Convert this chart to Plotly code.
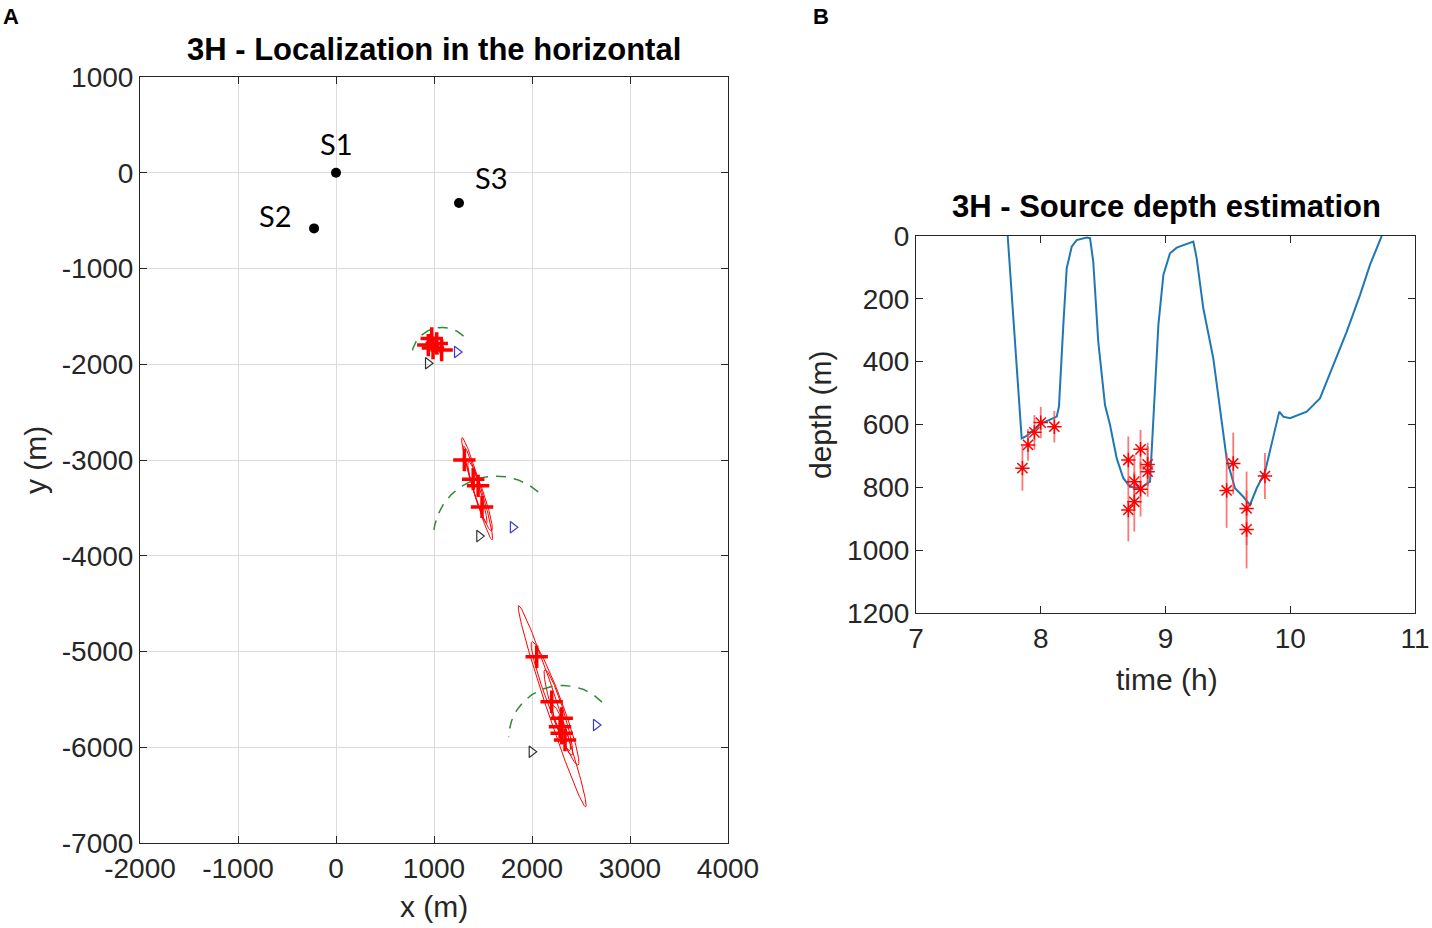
import numpy as np
import plotly.graph_objects as go

# --- panel A: horizontal localization ---
src_names = ["S1", "S2", "S3"]
src_x = [0, -224, 1255]
src_y = [0, -581, -316]

cross_x = [977, 1028, 942, 1078, 990,
           1310, 1400, 1450, 1490,
           2048, 2201, 2303, 2286, 2303, 2337]
cross_y = [-1730, -1782, -1800, -1852, -1830,
           -3000, -3200, -3270, -3490,
           -5055, -5525, -5698, -5786, -5855, -5925]

# error ellipses: centre x, centre y, semi-major, semi-minor, angle (deg)
ell_cx = [990, 1010, 1440, 1420, 1470, 2206, 2235, 2269, 2300]
ell_cy = [-1790, -1810, -3300, -3260, -3380, -5571, -5542, -5636, -5800]
ell_a = [110, 90, 555, 420, 380, 1105, 686, 466, 250]
ell_b = [35, 30, 40, 35, 45, 60, 70, 55, 40]
ell_ang = [-70, -65, -74, -74, -72, -72, -70, -73, -70]

# dashed arcs: centre x, centre y, radius, start / end angle (deg)
arc_cx = [1082, 1635, 2312]
arc_cy = [-1925, -3808, -5904]
arc_r = [310, 640, 550]
arc_a0 = [45, 48, 43]
arc_a1 = [176, 173, 179]

tri_black_x = [939, 1462, 1997]
tri_black_y = [-1989, -3795, -6047]
tri_blue_x = [1235, 1805, 2653]
tri_blue_y = [-1872, -3703, -5768]

x_ticks = [-2000, -1000, 0, 1000, 2000, 3000, 4000]
x_ticktext = ["-2000", "-1000", "0", "1000", "2000", "3000", "4000"]
y_ticks = [-7000, -6000, -5000, -4000, -3000, -2000, -1000, 0, 1000]
y_ticktext = ["-7000", "-6000", "-5000", "-4000", "-3000", "-2000", "-1000", "0", "1000"]

# --- panel B: source depth ---
track_t = [7.735, 7.847, 7.887, 8.007, 8.128, 8.146, 8.181, 8.208, 8.248, 8.288,
           8.368, 8.395, 8.421, 8.461, 8.515, 8.555, 8.609, 8.662, 8.715, 8.796,
           8.876, 8.902, 8.943, 8.983, 9.036, 9.090, 9.223, 9.250, 9.303, 9.383,
           9.437, 9.490, 9.557, 9.624, 9.677, 9.731, 9.798, 9.878, 9.912, 9.944,
           9.998, 10.132, 10.238, 10.345, 10.452, 10.559, 10.639, 10.733]
track_d = [0, 644, 636, 596, 575, 543, 283, 103, 34, 13,
           5, 7, 82, 336, 538, 601, 708, 771, 798, 803,
           782, 601, 283, 124, 55, 37, 18, 71, 230, 389,
           559, 708, 803, 830, 856, 803, 750, 612, 559, 575,
           580, 559, 517, 411, 305, 188, 92, 0]

est_t = [7.853, 7.898, 7.949, 8.000, 8.109,
         8.702, 8.702, 8.750, 8.750, 8.800, 8.800, 8.857, 8.857,
         9.490, 9.543, 9.650, 9.650, 9.797]
est_d = [739, 665, 625, 594, 607,
         713, 872, 782, 846, 679, 806, 727, 750,
         810, 724, 867, 934, 764]
est_err = [72, 50, 55, 50, 50,
           75, 100, 85, 95, 62, 87, 69, 80,
           119, 98, 117, 124, 73]

t_ticks = [7, 8, 9, 10, 11]
d_ticks = [0, 200, 400, 600, 800, 1000, 1200]

W, H = 1432, 928
TICK = dict(family="Liberation Sans, Arial", size=28, color="#262626")
LAB = dict(family="Liberation Sans, Arial", size=30, color="#262626")
TTL = dict(family="Liberation Sans, Arial", size=31, color="#000000")

fig = go.Figure()

# ellipses
for cx, cy, a, b, ang in zip(ell_cx, ell_cy, ell_a, ell_b, ell_ang):
    t = np.linspace(0, 2 * np.pi, 120)
    th = np.radians(ang)
    ex = cx + a * np.cos(t) * np.cos(th) - b * np.sin(t) * np.sin(th)
    ey = cy + a * np.cos(t) * np.sin(th) + b * np.sin(t) * np.cos(th)
    fig.add_trace(go.Scatter(x=ex, y=ey, mode="lines", line=dict(color="red", width=1),
                             xaxis="x", yaxis="y"))

# arcs
for cx, cy, r, a0, a1 in zip(arc_cx, arc_cy, arc_r, arc_a0, arc_a1):
    t = np.radians(np.linspace(a0, a1, 80))
    fig.add_trace(go.Scatter(x=cx + r * np.cos(t), y=cy + r * np.sin(t), mode="lines",
                             line=dict(color="#2e8b2e", width=1.5, dash="10px,8px"),
                             xaxis="x", yaxis="y"))

fig.add_trace(go.Scatter(x=cross_x, y=cross_y, mode="markers",
                         marker=dict(symbol="cross-thin", size=16, color="red",
                                     line=dict(color="red", width=3.5)),
                         xaxis="x", yaxis="y"))
fig.add_trace(go.Scatter(x=tri_black_x, y=tri_black_y, mode="markers",
                         marker=dict(symbol="triangle-right-open", size=10, color="#333333",
                                     line=dict(width=1.2)),
                         xaxis="x", yaxis="y"))
fig.add_trace(go.Scatter(x=tri_blue_x, y=tri_blue_y, mode="markers",
                         marker=dict(symbol="triangle-right-open", size=10, color="#3b3bd9",
                                     line=dict(width=1.2)),
                         xaxis="x", yaxis="y"))
fig.add_trace(go.Scatter(x=src_x, y=src_y, mode="markers",
                         marker=dict(symbol="circle", size=10, color="black"),
                         xaxis="x", yaxis="y"))

# source labels
label_shift = [(0, 29), (-39, 13), (33, 26)]
for name, sx, sy, (dx, dy) in zip(src_names, src_x, src_y, label_shift):
    fig.add_annotation(x=sx, y=sy, xref="x", yref="y", text=name, showarrow=False,
                       xshift=dx, yshift=dy, font=dict(family="Lato, Open Sans", size=29, color="black"))

# panel B traces
fig.add_trace(go.Scatter(x=track_t, y=track_d, mode="lines",
                         line=dict(color="#1f77b4", width=2), xaxis="x2", yaxis="y2"))
fig.add_trace(go.Scatter(x=est_t, y=est_d, mode="markers",
                         marker=dict(symbol="asterisk-open", size=12, color="red",
                                     line=dict(color="red", width=1.5)),
                         error_y=dict(type="data", array=est_err, color="rgba(255,60,60,0.7)",
                                      thickness=1.8, width=0),
                         xaxis="x2", yaxis="y2"))

axis_common = dict(showline=True, linecolor="#262626", linewidth=1, mirror="ticks",
                   ticks="inside", ticklen=7, tickcolor="#262626", tickfont=TICK, zeroline=False)

fig.update_layout(
    width=W, height=H, autosize=False, showlegend=False,
    margin=dict(l=0, r=0, t=0, b=0, autoexpand=False),
    paper_bgcolor="white", plot_bgcolor="white",
    xaxis=dict(domain=[140 / W, 728 / W], range=[-2000, 4000], tickvals=x_ticks, ticktext=x_ticktext,
               showgrid=True, gridcolor="#dcdcdc", gridwidth=1, anchor="y", **axis_common),
    yaxis=dict(domain=[1 - 843 / H, 1 - 77 / H], range=[-7000, 1000], tickvals=y_ticks, ticktext=y_ticktext,
               showgrid=True, gridcolor="#dcdcdc", gridwidth=1, anchor="x", **axis_common),
    xaxis2=dict(domain=[916 / W, 1415 / W], range=[7, 11], tickvals=t_ticks,
                showgrid=False, anchor="y2", **axis_common),
    yaxis2=dict(domain=[1 - 613 / H, 1 - 236 / H], range=[1200, 0], tickvals=d_ticks,
                showgrid=False, anchor="x2", **axis_common),
)

# titles and labels
texts = [
    ("<b>A</b>", 11, 16, 0, dict(family="Liberation Sans, Arial", size=22, color="black")),
    ("<b>B</b>", 821, 16, 0, dict(family="Liberation Sans, Arial", size=22, color="black")),
    ("<b>3H - Localization in the horizontal</b>", 434, 49, 0, TTL),
    ("<b>3H - Source depth estimation</b>", 1166, 207, 0, TTL),
    ("x (m)", 434, 906, 0, LAB),
    ("y (m)", 35, 460, -90, LAB),
    ("time (h)", 1167, 679, 0, LAB),
    ("depth (m)", 820, 415, -90, LAB),
]
for txt, px, py, ang, fnt in texts:
    fig.add_annotation(x=px / W, y=1 - py / H, xref="paper", yref="paper", text=txt,
                       showarrow=False, textangle=ang, font=fnt, xanchor="center", yanchor="middle")

# page body margin would shift the figure off the window
fig.write_html("out.html", config={"displayModeBar": False},
               post_script="document.body.style.margin='0';")
